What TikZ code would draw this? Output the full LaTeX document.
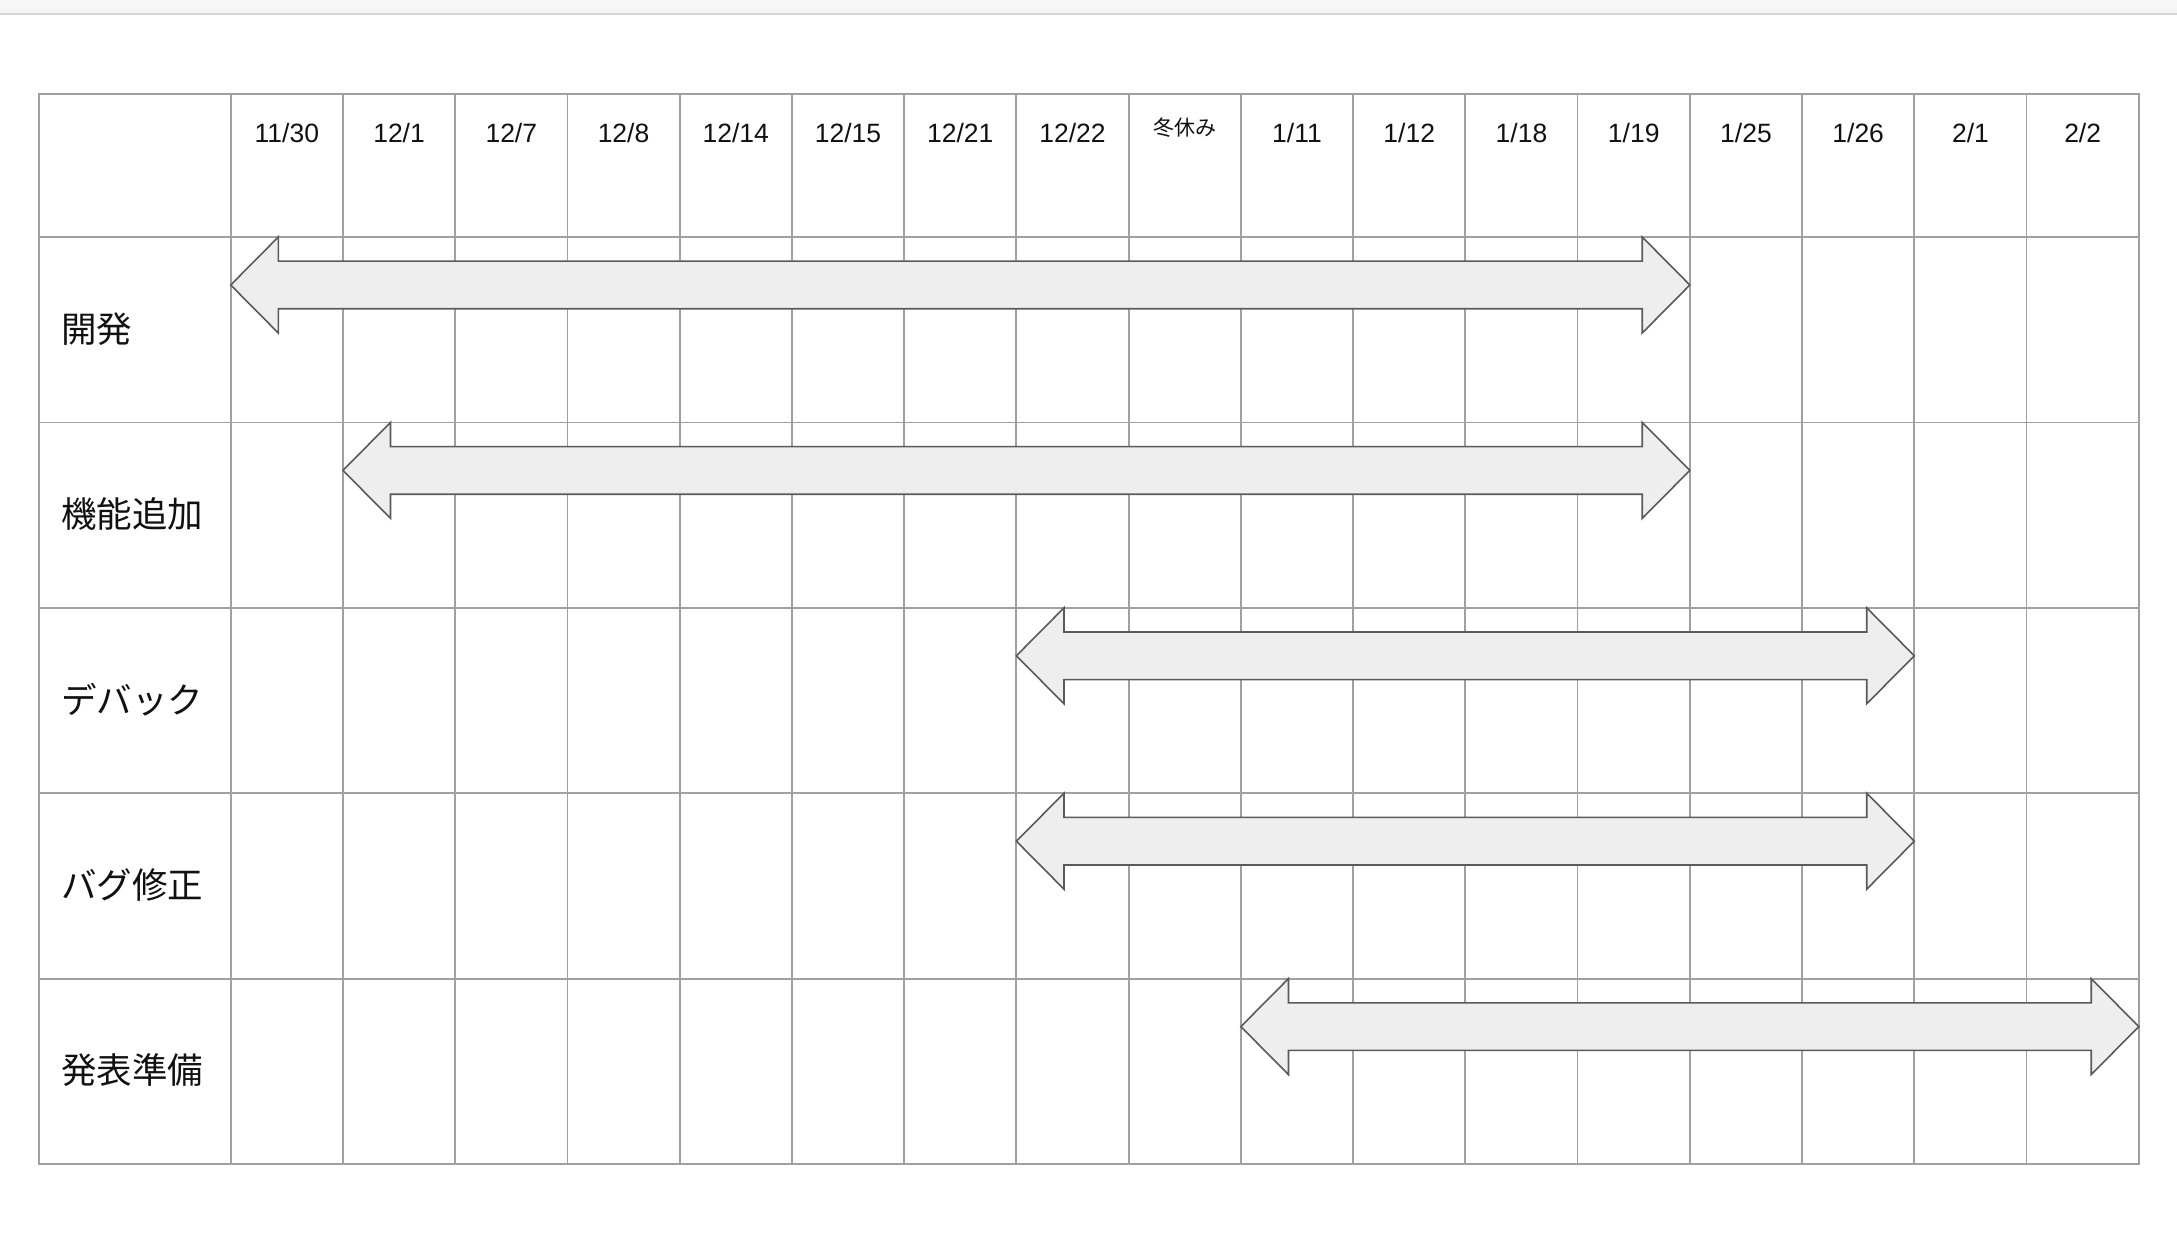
\documentclass[tikz,border=0pt]{standalone}
\usepackage{fontspec}
\setmainfont{Liberation Sans}
\newfontfamily\jp{Noto Sans CJK JP}
\definecolor{gridc}{HTML}{A0A0A0}
\definecolor{arrc}{HTML}{5A5A5A}
\definecolor{arrf}{HTML}{EEEEEE}
\definecolor{bandc}{HTML}{F5F6F7}
\definecolor{bandl}{HTML}{D6D6D6}
\definecolor{txt}{HTML}{111111}
\newcommand\gbar[4]{%
  \pgfmathsetmacro\xa{230.7+#2*112.24}%
  \pgfmathsetmacro\xb{230.7+#3*112.24}%
  \pgfmathsetmacro\yc{237+(#4-1)*185.4+48}%
  \coordinate (#1) at ({(\xa+\xb)/2},\yc);
  \draw[barst] (\xa,\yc) -- (\xa+47.6,\yc-48) -- (\xa+47.6,\yc-23.8) -- (\xb-47.6,\yc-23.8)
    -- (\xb-47.6,\yc-48) -- (\xb,\yc) -- (\xb-47.6,\yc+48) -- (\xb-47.6,\yc+23.8)
    -- (\xa+47.6,\yc+23.8) -- (\xa+47.6,\yc+48) -- cycle;
}
\begin{document}
\begin{tikzpicture}[x=1pt,y=-1pt,
  gridline/.style={draw=gridc, line width=1.8pt},
  barst/.style={draw=arrc, fill=arrf, line width=1.6pt, line join=miter},
  hdr/.style={anchor=base, inner sep=0pt, text=txt, font=\fontsize{26.5}{28}\selectfont},
  hdrjp/.style={anchor=base, inner sep=0pt, text=txt, font=\jp\fontsize{21}{22}\selectfont},
  rowlab/.style={anchor=base west, inner sep=0pt, text=txt, font=\jp\fontsize{35.5}{37}\selectfont}]
\path[use as bounding box] (0,0) rectangle (2177,1241);
\fill[white] (0,0) rectangle (2177,1241);
% top band
\fill[bandc] (0,0) rectangle (2177,12.7);
\draw[bandl, line width=2pt] (0,13.7) -- (2177,13.7);
% grid
\foreach \i in {0,...,17} {
  \draw[gridline] ({230.7+\i*112.24},94) -- ({230.7+\i*112.24},1164);
}
\foreach \k in {0,...,4} {
  \draw[gridline] (39,{237+\k*185.4}) -- (2138.7,{237+\k*185.4});
}
\draw[gridline, line width=2.2pt] (39,94) rectangle (2138.7,1164);
% header labels
\foreach \t [count=\i from 0] in {11/30,12/1,12/7,12/8,12/14,12/15,12/21,12/22} {
  \node[hdr] (h\i) at ({230.7+(\i+0.5)*112.24},142.7) {\t};
}
\node[hdrjp] (h8) at ({230.7+8.5*112.24},136) {冬休み};
\foreach \t [count=\i from 9] in {1/11,1/12,1/18,1/19,1/25,1/26,2/1,2/2} {
  \node[hdr] (h\i) at ({230.7+(\i+0.5)*112.24},142.7) {\t};
}
% row labels
\node[rowlab] (r1) at (61,{237+0.5*185.4+12.5}) {開発};
\node[rowlab] (r2) at (61,{237+1.5*185.4+12.5}) {機能追加};
\node[rowlab] (r3) at (61,{237+2.5*185.4+12.5}) {デバック};
\node[rowlab] (r4) at (61,{237+3.5*185.4+12.5}) {バグ修正};
\node[rowlab] (r5) at (61,{237+4.5*185.4+12.5}) {発表準備};
% bars
\gbar{b1}{0}{13}{1}
\gbar{b2}{1}{13}{2}
\gbar{b3}{7}{15}{3}
\gbar{b4}{7}{15}{4}
\gbar{b5}{9}{17}{5}
\end{tikzpicture}
\end{document}
